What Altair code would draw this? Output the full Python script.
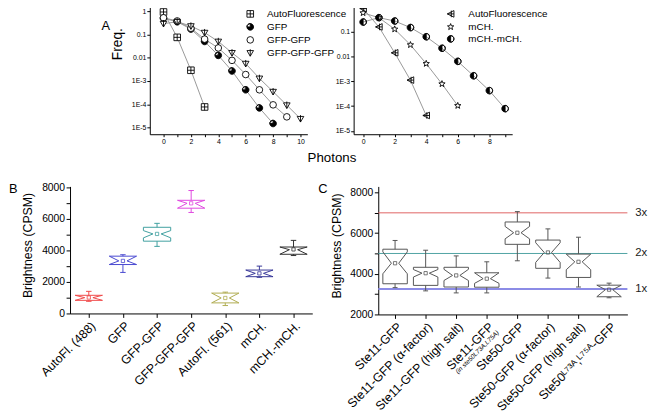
import json, math
import pandas as pd
import altair as alt

FONT = "Liberation Sans, Arial, Helvetica, sans-serif"
NARROW = "Liberation Sans Narrow, Liberation Sans, Arial, sans-serif"

# ---------------- Panel A data ----------------
seriesL = ["AutoFluorescence", "GFP", "GFP-GFP", "GFP-GFP-GFP"]
afL = [0.92, 0.075, 0.0029, 7.7e-5]
gfpL = [0.49, 0.35, 0.17, 0.05, 0.0126, 0.0027, 4.2e-4, 7.0e-5, 1.5e-5]
gfp2L = [0.52, 0.38, 0.185, 0.063, 0.0263, 0.0077, 0.0019, 4.2e-4, 9.5e-5, 2.9e-5]
gfp3L = [0.29, 0.35, 0.23, 0.12, 0.05, 0.0163, 0.0056, 0.0013, 3.5e-4, 9.2e-5, 2.4e-5]

seriesR = ["AutoFluorescence", "mCH.", "mCH.-mCH."]
afR = [0.84, 0.153, 0.0139, 0.00111, 4.2e-5]
mchR = [0.56, 0.36, 0.124, 0.029, 0.0051, 7.8e-4, 1.04e-4]
mch2R = [0.24, 0.36, 0.264, 0.144, 0.0615, 0.0212, 0.0063, 0.00166, 4.2e-4, 7.9e-5]

decades = [1, 0.1, 0.01, 0.001, 0.0001, 0.00001]

# ---------------- Panel B data ----------------
cats_B = ["AutoFl. (488)", "GFP", "GFP-GFP", "GFP-GFP-GFP", "AutoFl. (561)", "mCH.", "mCH.-mCH."]
wlo_B = [770, 2600, 4250, 6400, 500, 2290, 3670]
q1_B = [830, 3100, 4580, 6670, 670, 2330, 3750]
nlo_B = [830, 3100, 4790, 6670, 670, 2330, 3750]
med_B = [1000, 3330, 5040, 6980, 980, 2540, 4040]
nhi_B = [1150, 3630, 5250, 7170, 1290, 2750, 4210]
q3_B = [1150, 3630, 5460, 7170, 1290, 2750, 4210]
whi_B = [1400, 3720, 5710, 7790, 1350, 3000, 4630]
mean_B = [1010, 3330, 5040, 6980, 980, 2540, 4060]
col_B = ["#f04848", "#4848d0", "#40a0a0", "#e048e0", "#b0ac50", "#383898", "#303030"]

# ---------------- Panel C data ----------------
cats_C = ["Ste11-GFP", "Ste11-GFP  (\u03b1-factor)", "Ste11-GFP (high salt)", "Ste11-GFP",
          "Ste50-GFP", "Ste50-GFP  (\u03b1-factor)", "Ste50-GFP (high salt)",
          "Ste50\u1d38\u2077\u00b3\u1d2c,\u1d38\u2077\u2075\u1d2c-GFP"]
sub_C = "(in ste50L73A,L75A)"
wlo_C = [3320, 3160, 3060, 3060, 4640, 3790, 3350, 2820]
q1_C = [3510, 3430, 3350, 3340, 5450, 4270, 3820, 2870]
nlo_C = [4000, 3840, 3670, 3530, 5720, 4560, 4200, 2870]
med_C = [4520, 4030, 3920, 3760, 6020, 5050, 4590, 3220]
nhi_C = [5080, 4210, 4220, 4050, 6330, 5530, 4965, 3440]
q3_C = [5210, 4320, 4320, 4050, 6550, 5660, 4970, 3440]
whi_C = [5640, 5160, 4880, 4590, 7060, 6210, 5800, 3540]
mean_C = [4520, 4030, 3920, 3760, 6020, 5050, 4590, 3220]
ref_labels = ["3x", "2x", "1x"]
ref_values = [7000, 5000, 3250]
ref_colors = ["#e06464", "#4fa3a3", "#8c8ce6"]


def long_df(series, values):
    rows = []
    for s, vals in zip(series, values):
        for x, v in enumerate(vals):
            rows.append({"series": s, "photons": x, "freq": v})
    return pd.DataFrame(rows)


def axis(**kw):
    base = dict(grid=False, domainColor="black", tickColor="black", labelColor="black",
                titleColor="black", domainWidth=1, tickWidth=1, labelOverlap=False,
                labelFlush=False)
    base.update(kw)
    return alt.Axis(**base)


# ---- custom symbols (unit square -1..1) ----
CIRCLE_CW = "M0,-1A1,1,0,1,1,0,1A1,1,0,1,1,0,-1Z"
sym_sq_cross = "M-1,-1L1,-1L1,1L-1,1Z M0,-1L0,1 M-1,0L1,0"
sym_gfp = CIRCLE_CW + " M0,0L0,-1A1,1,0,0,0,-1,0Z"
sym_tri_line = "M-1,-0.7L1,-0.7L0,1Z M0,-1.1L0,1"
sym_tri_left_cross = "M-1,0L1,-1L1,1Z M-1,0L1,0 M0.2,-1L0.2,1"
sym_half = CIRCLE_CW + " M0,-1L0,1A1,1,0,0,0,0,-1Z"
star_pts = []
for j in range(10):
    r = 1.0 if j % 2 == 0 else 0.42
    a = math.radians(-90 + 36 * j)
    star_pts.append(f"{r*math.cos(a):.3f},{r*math.sin(a):.3f}")
sym_star = "M" + "L".join(star_pts) + "Z"


def a_panel(df, series, shapes, fills, xdom, ydom, width, xvals, xaxis_kw, yaxis_kw,
            legx, legy, laboff, letter=None):
    sx = alt.Scale(domain=xdom, nice=False, zero=False)
    sy = alt.Scale(type="log", domain=ydom, nice=False)
    ax = axis(values=xvals, labelExpr="datum.value % 2 == 0 ? '' + datum.value : ''",
              tickSize=2.5, labelFontSize=7, labelFont=NARROW, labelPadding=0.5, **xaxis_kw)
    ay = axis(values=decades, tickSize=3, labelFontSize=7, labelFont=NARROW, labelPadding=1,
              **yaxis_kw)
    X = alt.X("photons:Q", scale=sx, axis=ax)
    Y = alt.Y("freq:Q", scale=sy, axis=ay)
    base = alt.Chart(df)
    lines = base.mark_line(color="#8c8c8c", strokeWidth=0.9).encode(
        x=X, y=Y, detail="series:N", order="photons:Q")
    leg = alt.Legend(title=None, orient="none", legendX=legx, legendY=legy, padding=0,
                     labelFontSize=10, labelFont=FONT, labelColor="black", symbolSize=45,
                     symbolStrokeWidth=0.9, rowPadding=1.2, labelOffset=laboff)
    pts = base.mark_point(filled=True, opacity=1, strokeWidth=0.9, size=45).encode(
        x=X, y=Y,
        shape=alt.Shape("series:N", scale=alt.Scale(domain=series, range=shapes), legend=leg),
        fill=alt.Fill("series:N", scale=alt.Scale(domain=series, range=fills), legend=leg),
        stroke=alt.Stroke("series:N", scale=alt.Scale(domain=series, range=["black"] * len(series)), legend=leg),
    )
    layers = [lines, pts]
    if letter:
        layers.append(alt.Chart(pd.DataFrame({"t": [letter[0]]})).mark_text(
            fontSize=13, font=FONT, align="left", baseline="middle", color="black").encode(
            x=alt.value(letter[1]), y=alt.value(letter[2]), text="t:N"))
    return alt.layer(*layers).properties(width=width, height=130)


log_expr_L = ("datum.value >= 0.5 ? '1' : datum.value >= 0.05 ? '0.1' : "
              "datum.value >= 0.005 ? '0.01' : '1E-' + round(-log(datum.value)/LN10)")
log_expr_R = ("datum.value >= 0.5 ? '' : datum.value >= 0.05 ? '0.1' : "
              "datum.value >= 0.005 ? '0.01' : '1E-' + round(-log(datum.value)/LN10)")

A_left = a_panel(
    long_df(seriesL, [afL, gfpL, gfp2L, gfp3L]), seriesL,
    [sym_sq_cross, sym_gfp, "circle", sym_tri_line], ["white", "black", "white", "white"],
    [-1, 10.5], [5.2e-6, 1.63], 160, list(range(11)),
    dict(title="Photons", titleX=184.5, titleY=24, titleBaseline="middle", titleAlign="center",
         titleFontSize=13.5, titleFont=FONT, titleFontWeight="normal"),
    dict(labelExpr=log_expr_L, title="Freq.", titleX=-32.5, titleY=38, titleBaseline="middle",
         titleAlign="center", titleAngle=270, titleFontSize=14, titleFont=FONT,
         titleFontWeight="normal"),
    97, 2.8, 12, letter=("A", -49, 20))

A_right = a_panel(
    long_df(seriesR, [afR, mchR, mch2R]), seriesR,
    [sym_tri_left_cross, sym_star, sym_half], ["white", "white", "black"],
    [-0.6, 9.45], [7.4e-6, 1.04], 161, list(range(10)),
    dict(title=None), dict(labelExpr=log_expr_R, title=None),
    93.5, 2.8, 13)

spacer = alt.Chart(pd.DataFrame({"t": [0]})).mark_point(opacity=0, size=1).encode(
    x=alt.value(17), y=alt.value(65)).properties(width=34, height=130)


def box_panel(cats, wlo, q1, nlo, med, nhi, q3, whi, mean, colors, xdom, ydom, width, height,
              yvals, ytitle_xy, letter_xy, letter):
    hw, hin, cap = 0.40, 0.12, 0.08
    verts, whisk, caps, means = [], [], [], []
    for i in range(len(cats)):
        pts = [(-hw, q3[i]), (hw, q3[i]), (hw, nhi[i]), (hin, med[i]), (hw, nlo[i]),
               (hw, q1[i]), (-hw, q1[i]), (-hw, nlo[i]), (-hin, med[i]), (-hw, nhi[i]),
               (-hw, q3[i])]
        for k, (dx, v) in enumerate(pts):
            verts.append({"c": str(i), "k": k, "x": i + dx, "v": v})
        whisk.append({"c": str(i), "x": i, "a": q3[i], "b": whi[i]})
        whisk.append({"c": str(i), "x": i, "a": q1[i], "b": wlo[i]})
        caps.append({"c": str(i), "x1": i - cap, "x2": i + cap, "v": whi[i]})
        caps.append({"c": str(i), "x1": i - cap, "x2": i + cap, "v": wlo[i]})
        means.append({"c": str(i), "x": i, "v": mean[i]})
    sx = alt.Scale(domain=xdom, nice=False, zero=False)
    sy = alt.Scale(domain=ydom, nice=False, zero=False)
    cats_expr = json.dumps(cats, ensure_ascii=False) + "[datum.value]"
    ax = axis(values=list(range(len(cats))), labelExpr=cats_expr, labelAngle=-45,
              labelAlign="right", labelBaseline="top", labelFontSize=12.5, labelFont=FONT,
              labelPadding=2, tickSize=4, title=None, labelLimit=400)
    ay = axis(values=yvals, format="d", labelExpr="datum.value % 2000 == 0 ? datum.label : ''",
              labelFontSize=10.5, labelFont=FONT, tickSize=4, labelPadding=1.5,
              title="Brightness (CPSM)", titleFontSize=12.5, titleFont=FONT,
              titleFontWeight="normal", titleX=ytitle_xy[0], titleY=ytitle_xy[1],
              titleBaseline="middle", titleAlign="center", titleAngle=270)
    if isinstance(colors, str):
        C = alt.value(colors)
    else:
        ckeys = [str(i) for i in range(len(cats))]
        C = alt.Color("c:N", scale=alt.Scale(domain=ckeys, range=colors), legend=None)
    boxes = alt.Chart(pd.DataFrame(verts)).mark_line(strokeWidth=1).encode(
        x=alt.X("x:Q", scale=sx, axis=ax), y=alt.Y("v:Q", scale=sy, axis=ay),
        detail="c:N", order="k:Q", color=C)
    wh = alt.Chart(pd.DataFrame(whisk)).mark_rule(strokeWidth=1).encode(
        x=alt.X("x:Q", scale=sx, axis=ax), y=alt.Y("a:Q", scale=sy, axis=ay), y2="b:Q", color=C)
    cp = alt.Chart(pd.DataFrame(caps)).mark_rule(strokeWidth=1).encode(
        x=alt.X("x1:Q", scale=sx, axis=ax), x2="x2:Q", y=alt.Y("v:Q", scale=sy, axis=ay), color=C)
    mn = alt.Chart(pd.DataFrame(means)).mark_point(shape="square", size=11, strokeWidth=0.8,
                                                   filled=False, opacity=1).encode(
        x=alt.X("x:Q", scale=sx, axis=ax), y=alt.Y("v:Q", scale=sy, axis=ay), color=C)
    lt = alt.Chart(pd.DataFrame({"t": [letter]})).mark_text(
        fontSize=13, font=FONT, align="left", baseline="middle", color="black").encode(
        x=alt.value(letter_xy[0]), y=alt.value(letter_xy[1]), text="t:N")
    return [boxes, wh, cp, mn, lt], sx, sy, ax, ay


B_layers, _, _, _, _ = box_panel(cats_B, wlo_B, q1_B, nlo_B, med_B, nhi_B, q3_B, whi_B, mean_B,
                                 col_B, [-0.55, 6.55], [0, 8050], 246, 129,
                                 list(range(0, 8001, 1000)), (-43, 59.5), (-62, 2.5), "B")
B = alt.layer(*B_layers).properties(width=246, height=129)

W_C, H_C = 253, 130
C_layers, sxC, syC, axC, ayC = box_panel(cats_C, wlo_C, q1_C, nlo_C, med_C, nhi_C, q3_C, whi_C,
                                         mean_C, "#555555", [-0.55, 7.6],
                                         [2000, 8300], W_C, H_C,
                                         list(range(2000, 8001, 1000)), (-42, 60), (-61, 2.5), "C")
ref_df = pd.DataFrame({"lab": ref_labels, "val": ref_values})
RC = alt.Color("lab:N", scale=alt.Scale(domain=ref_labels, range=ref_colors), legend=None)
ref_thin = alt.Chart(ref_df).transform_filter("datum.lab != '1x'").mark_rule(strokeWidth=1).encode(
    y=alt.Y("val:Q", scale=syC, axis=ayC), color=RC)
ref_thick = alt.Chart(ref_df).transform_filter("datum.lab == '1x'").mark_rule(strokeWidth=2).encode(
    y=alt.Y("val:Q", scale=syC, axis=ayC), color=RC)
ref_txt = alt.Chart(ref_df).mark_text(align="left", baseline="middle", fontSize=11.5, font=FONT,
                                      color="#222222").encode(
    x=alt.value(W_C + 8), y=alt.Y("val:Q", scale=syC, axis=ayC), text="lab:N")
sub_txt = alt.Chart(pd.DataFrame({"x": [3], "t": [sub_C]})).mark_text(
    angle=315, align="right", baseline="top", fontSize=6.5, font=FONT, fontStyle="italic",
    color="black", dy=13).encode(
    x=alt.X("x:Q", scale=sxC, axis=axC), y=alt.value(H_C + 6), text="t:N")
C = alt.layer(ref_thin, ref_thick, *C_layers, ref_txt, sub_txt).properties(width=W_C, height=H_C)

res = dict(shape="independent", fill="independent", stroke="independent", color="independent")

top = alt.hconcat(spacer, A_left, A_right, spacing=47, bounds="flush").resolve_scale(**res)
bottom = alt.hconcat(B, C, spacing=67, bounds="flush").resolve_scale(**res)

chart = alt.vconcat(top, bottom, spacing=17).resolve_scale(**res).properties(
    padding={"left": 0, "top": -10, "right": 5, "bottom": 2}
).configure(font=FONT).configure_view(stroke="transparent")

chart.save("out.html", embed_options={"renderer": "svg", "actions": False})
